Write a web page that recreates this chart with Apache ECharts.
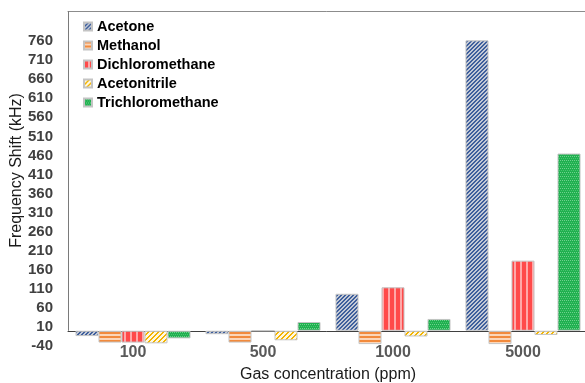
<!DOCTYPE html>
<html>
<head>
<meta charset="utf-8">
<script src="https://cdn.jsdelivr.net/npm/echarts@6/dist/echarts.min.js"></script>
<style>html,body{margin:0;padding:0;background:#fff}#c{width:585px;height:383px}</style>
</head>
<body>
<div id="c"></div>
<script>
const categories = ['100', '500', '1000', '5000'];
const acetone = [-14, -9, 97, 762];
const methanol = [-31, -31, -35, -35];
const dichloromethane = [-31, 0, 114, 184];
const acetonitrile = [-33, -25, -15, -11];
const trichloromethane = [-20, 23, 31, 465];
const seriesNames = ['Acetone', 'Methanol', 'Dichloromethane', 'Acetonitrile', 'Trichloromethane'];
const yTickLabels = [-40, 10, 60, 110, 160, 210, 260, 310, 360, 410, 460, 510, 560, 610, 660, 710, 760];

function makePattern(w, h, draw) {
  const c = document.createElement('canvas');
  c.width = w; c.height = h;
  const g = c.getContext('2d');
  draw(g, w, h);
  return { image: c, repeat: 'repeat' };
}
const patAcetone = makePattern(4, 4, (g) => {
  g.fillStyle = '#c3c9d6'; g.fillRect(0, 0, 4, 4);
  g.fillStyle = '#3e5f9c';
  for (let i = 0; i < 4; i++) { g.fillRect((3 - i + 4) % 4, i, 2, 1); if ((3 - i) + 2 > 4) g.fillRect(0, i, (3 - i) + 2 - 4, 1); }
});
const patMethanol = makePattern(4, 4, (g) => {
  g.fillStyle = '#fcd6b8'; g.fillRect(0, 0, 4, 4);
  g.fillStyle = '#f28a3c'; g.fillRect(0, 0, 4, 2);
});
const patDichloro = makePattern(6, 4, (g) => {
  g.fillStyle = '#ff4a4a'; g.fillRect(0, 0, 6, 4);
  g.fillStyle = '#ffa8a8'; g.fillRect(4, 0, 2, 4);
});
const patAcetonitrile = makePattern(5, 5, (g) => {
  g.fillStyle = '#fff8e0'; g.fillRect(0, 0, 5, 5);
  g.fillStyle = '#f3b400';
  for (let i = 0; i < 5; i++) { const x = (4 - i); g.fillRect(x, i, 2, 1); if (x + 2 > 5) g.fillRect(0, i, x + 2 - 5, 1); }
});
const patTrichloro = makePattern(4, 4, (g) => {
  g.fillStyle = '#20b050'; g.fillRect(0, 0, 4, 4);
  g.fillStyle = '#6fd28e'; g.fillRect(0, 0, 1, 1); g.fillRect(2, 0, 1, 1);
  g.fillStyle = '#48c470'; g.fillRect(1, 2, 1, 1); g.fillRect(3, 2, 1, 1);
});
const patterns = [patAcetone, patMethanol, patDichloro, patAcetonitrile, patTrichloro];
const values = [acetone, methanol, dichloromethane, acetonitrile, trichloromethane];

const GRID_LEFT = 68;
const Y_MIN = -40, Y_MAX = 839;

const chart = echarts.init(document.getElementById('c'), null, { renderer: 'canvas' });
const option = {
  animation: false,
  backgroundColor: '#fff',
  grid: { left: GRID_LEFT, right: -3, top: 11, bottom: 37, containLabel: false, outerBoundsMode: 'none' },
  legend: {
    orient: 'vertical', left: 83, top: 19, padding: 0, itemWidth: 8, itemHeight: 8, itemGap: 4,
    icon: 'rect',
    textStyle: { fontFamily: 'Liberation Sans, Arial', fontWeight: 'bold', fontSize: 14.5, color: '#000' },
    data: seriesNames
  },
  xAxis: [{
    type: 'category', data: categories,
    axisLine: { onZero: true, lineStyle: { color: '#404040', width: 1 } },
    axisTick: { show: false },
    axisLabel: { margin: -1, fontFamily: 'Liberation Sans, Arial', fontWeight: 'bold', fontSize: 16, color: '#595959' },
    name: 'Gas concentration (ppm)', nameLocation: 'middle', nameGap: 21, nameMoveOverlap: false,
    nameTextStyle: { fontFamily: 'Liberation Sans, Arial', fontSize: 16, color: '#1a1a1a' }
  }, {
    type: 'category', data: categories, position: 'top',
    axisLine: { onZero: false, lineStyle: { color: '#8c8c8c', width: 1 } },
    axisTick: { show: false }, axisLabel: { show: false }
  }],
  yAxis: {
    type: 'value', min: Y_MIN, max: Y_MAX, interval: 50,
    axisLine: { show: false }, axisTick: { show: false }, splitLine: { show: false },
    axisLabel: {
      margin: 15, fontFamily: 'Liberation Sans, Arial', fontWeight: 'bold', fontSize: 15, color: '#404040',
      formatter: (v) => (yTickLabels.indexOf(v) >= 0 ? String(v) : '')
    },
    name: 'Frequency Shift (kHz)', nameLocation: 'middle', nameGap: 43, nameMoveOverlap: false,
    nameTextStyle: { fontFamily: 'Liberation Sans, Arial', fontSize: 16, color: '#1a1a1a', padding: [0, 0, 0, 16] }
  },
  series: seriesNames.map((n, i) => ({
    name: n, type: 'bar', data: values[i], xAxisIndex: 0,
    barGap: '0%', barCategoryGap: '11.5%',
    itemStyle: { color: patterns[i], borderColor: '#c4c4c4', borderWidth: 1 }
  }))
};
chart.setOption(option);
const yZero = chart.convertToPixel({ yAxisIndex: 0 }, 0);
const yTop = chart.convertToPixel({ yAxisIndex: 0 }, Y_MAX);
chart.setOption({
  graphic: [{
    type: 'line', z: 100,
    shape: { x1: GRID_LEFT + 0.5, y1: yTop, x2: GRID_LEFT + 0.5, y2: yZero },
    style: { stroke: '#7a7a7a', lineWidth: 1 }
  }]
});
</script>
</body>
</html>
